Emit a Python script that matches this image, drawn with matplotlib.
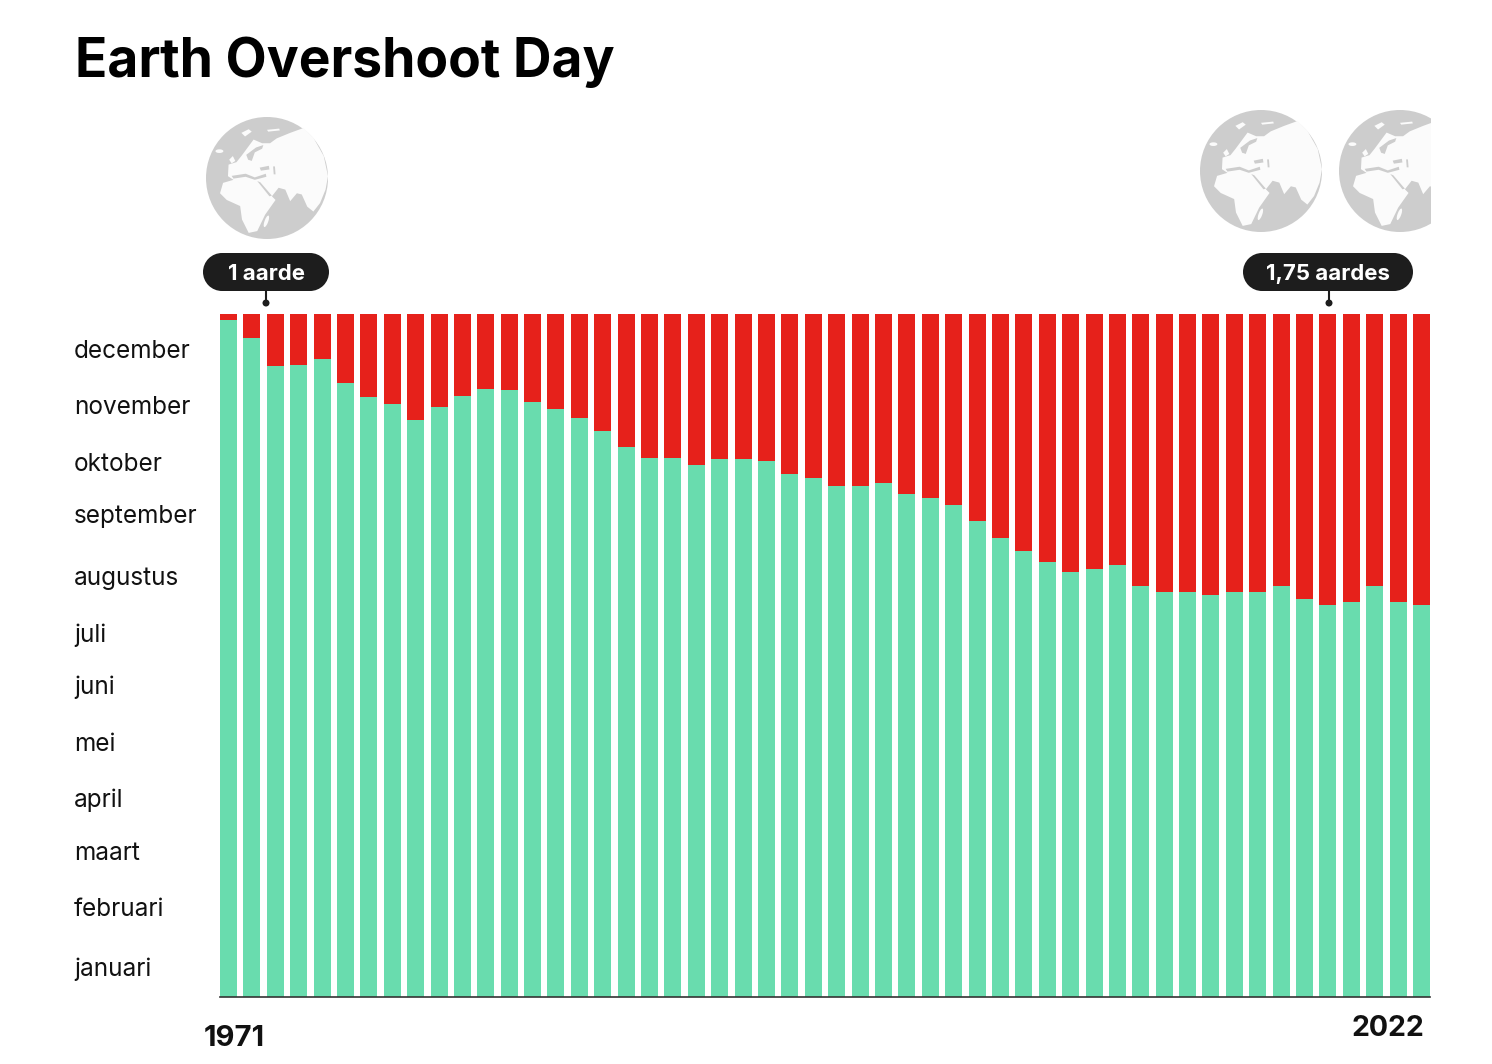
import numpy as np
import matplotlib
matplotlib.use('Agg')
import matplotlib.pyplot as plt
from matplotlib.patches import Circle, Polygon, Rectangle, Ellipse
from matplotlib.transforms import blended_transform_factory

# day of the year on which overshoot day falls
years = list(range(1971, 2023))
overshoot_day = [361.8, 352.2, 337.2, 337.7, 341.0, 328.1, 320.6, 316.9, 308.4, 315.3,
                 321.2, 324.9, 324.4, 318.0, 314.2, 309.4, 302.5, 293.9, 288.0, 288.0,
                 284.3, 287.5, 287.5, 286.4, 279.5, 277.4, 273.1, 273.1, 274.7, 268.8,
                 266.7, 262.9, 254.4, 245.3, 238.3, 232.5, 227.1, 228.7, 230.9, 219.6,
                 216.4, 216.4, 214.8, 216.4, 216.4, 219.6, 212.7, 209.5, 211.1, 219.6,
                 211.1, 209.5]
months = ['december', 'november', 'oktober', 'september', 'augustus', 'juli',
          'juni', 'mei', 'april', 'maart', 'februari', 'januari']
month_pos = [344.8, 314.8, 284.4, 256.6, 223.4, 193.5, 165.7, 134.7, 105.3, 76.5, 46.6, 15.0]
days_in_year = 365

GREEN = '#69dcae'
RED = '#e6211b'
DARK = '#1d1d1d'
OCEAN = '#cdcdcd'
LAND = '#fbfbfb'
W, H = 1492, 1064

# rough continents, unit circle coordinates (x right, y up)
land_main = [(-0.30, -0.90), (-0.41, -0.68), (-0.44, -0.46), (-0.66, -0.36), (-0.77, -0.25),
             (-0.72, -0.08), (-0.55, -0.03), (-0.64, 0.03), (-0.63, 0.22), (-0.50, 0.26),
             (-0.42, 0.36), (-0.22, 0.63), (-0.08, 0.57), (0.05, 0.57),
             (0.16, 0.65), (0.38, 0.74), (0.60, 0.82), (0.76, 0.66), (0.93, 0.36),
             (1.0, 0.03), (0.96, -0.19), (0.87, -0.41), (0.76, -0.55), (0.66, -0.47),
             (0.57, -0.27), (0.49, -0.25), (0.38, -0.38), (0.30, -0.19), (0.19, -0.16),
             (0.08, -0.30), (0.14, -0.36), (-0.03, -0.60), (-0.16, -0.87)]
uk = [(-0.62, 0.30), (-0.56, 0.36), (-0.52, 0.28), (-0.58, 0.24)]
sea_med = [(-0.58, 0.035), (-0.35, 0.07), (-0.20, 0.01), (-0.02, 0.07), (-0.01, 0.02),
           (-0.20, -0.03), (-0.35, 0.02), (-0.55, -0.01)]
sea_red = [(-0.16, -0.05), (-0.11, -0.07), (0.08, -0.29), (0.04, -0.30)]
sea_baltic = [(-0.34, 0.38), (-0.18, 0.50), (-0.06, 0.54), (-0.08, 0.48), (-0.20, 0.42), (-0.25, 0.28), (-0.31, 0.30)]
sea_black = [(-0.12, 0.17), (0.03, 0.20), (0.04, 0.14), (-0.10, 0.12)]
sea_caspian = [(0.10, 0.19), (0.13, 0.19), (0.14, 0.06), (0.11, 0.06)]
isl_a = [(-0.42, 0.74), (-0.30, 0.80), (-0.25, 0.76), (-0.36, 0.68)]
isl_b = [(0.0, 0.79), (0.20, 0.81), (0.21, 0.78), (0.02, 0.76)]


def draw_globe(ax, cx, cy, r):
    ax.add_patch(Circle((cx, cy), r, fc=OCEAN, ec='none', zorder=2))
    def to_px(pts):
        return [(cx + x * r, cy - y * r) for x, y in pts]
    for pts in (land_main, uk, isl_a, isl_b):
        ax.add_patch(Polygon(to_px(pts), fc=LAND, ec='none', zorder=3))
    for pts in (sea_med, sea_red, sea_baltic, sea_black, sea_caspian):
        ax.add_patch(Polygon(to_px(pts), fc=OCEAN, ec='none', zorder=4))
    ax.add_patch(Ellipse((cx - 0.78 * r, cy - 0.44 * r), 0.13 * r, 0.06 * r, fc=LAND, ec='none', zorder=3))
    ax.add_patch(Ellipse((cx - 0.01 * r, cy + 0.71 * r), 0.06 * r, 0.2 * r, angle=20, fc=LAND, ec='none', zorder=4))


def draw_pill(ax, x0, x1, y0, y1, text, stem_x):
    h = y1 - y0
    ax.add_patch(Rectangle((x0 + h / 2, y0), x1 - x0 - h, h, fc=DARK, ec='none', zorder=5))
    ax.add_patch(Circle((x0 + h / 2, y0 + h / 2), h / 2, fc=DARK, ec='none', zorder=5))
    ax.add_patch(Circle((x1 - h / 2, y0 + h / 2), h / 2, fc=DARK, ec='none', zorder=5))
    ax.plot([stem_x, stem_x], [y1, 303], color=DARK, lw=1.5, zorder=5)
    ax.add_patch(Circle((stem_x, 303), 3.5, fc=DARK, ec='none', zorder=5))
    ax.text((x0 + x1) / 2, (y0 + y1) / 2 + 2, text, color='white', fontsize=16, fontweight='bold',
            ha='center', va='center', zorder=6)


plt.rcParams['font.family'] = ['Inter', 'DejaVu Sans']

fig = plt.figure(figsize=(W / 100, H / 100), dpi=100, facecolor='white')

# bars
ax = fig.add_axes([220 / W, 1 - 997 / H, (1430 - 220) / W, (997 - 314) / H])
x = np.arange(len(years))
width = 0.727
ax.bar(x, overshoot_day, width=width, color=GREEN, linewidth=0)
ax.bar(x, [days_in_year - v for v in overshoot_day], bottom=overshoot_day, width=width, color=RED, linewidth=0)
ax.set_xlim(-width / 2, len(years) - 1 + width / 2)
ax.set_ylim(0, days_in_year)
for s in ('top', 'left', 'right'):
    ax.spines[s].set_visible(False)
ax.spines['bottom'].set_color('#333333')
ax.spines['bottom'].set_linewidth(1.2)
ax.set_xticks([])
ax.set_yticks([])

trans = blended_transform_factory(fig.transFigure, ax.transData)
for m, p in zip(months, month_pos):
    ax.text(74 / W, p, m, transform=trans, fontsize=17.5, color='#111111', ha='left', va='center', clip_on=False)

# everything else is placed in picture pixels
ov = fig.add_axes([0, 0, 1, 1], facecolor='none')
ov.set_xlim(0, W)
ov.set_ylim(H, 0)
ov.axis('off')

ov.text(75, 62, 'Earth Overshoot Day', fontsize=38.4, fontweight='bold', color='black', ha='left', va='center')

draw_globe(ov, 267, 178, 61)
draw_globe(ov, 1261, 171, 61)
draw_globe(ov, 1400, 171, 61)
ov.add_patch(Rectangle((1431, 100), 61, 150, fc='white', ec='none', zorder=4.5))

draw_pill(ov, 203, 329, 253, 291, '1 aarde', 266)
draw_pill(ov, 1243, 1413, 253, 291, '1,75 aardes', 1329)

ov.text(204, 1038, str(years[0]), fontsize=21, fontweight='bold', color='#111111', ha='left', va='center')
ov.text(1424, 1028, str(years[-1]), fontsize=20.5, fontweight='bold', color='#111111', ha='right', va='center')

fig.savefig('out.png', dpi=100, facecolor='white')
